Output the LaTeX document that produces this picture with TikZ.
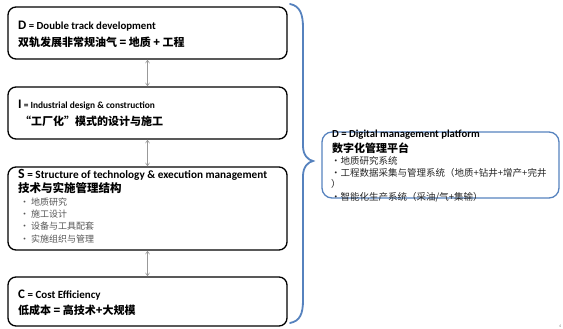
\documentclass[tikz,border=0pt]{standalone}
\usepackage{fontspec}
\setmainfont{Carlito}
\newfontfamily\cjk{Noto Sans CJK SC}
\usetikzlibrary{arrows.meta}
\definecolor{pblue}{RGB}{86,130,190}
\definecolor{bulgray}{RGB}{85,85,85}
\begin{document}
\begin{tikzpicture}[x=1pt,y=-1pt,
  blackbox/.style={draw=black,line width=1.3pt,rounded corners=8pt,minimum width=279pt,inner sep=0pt},
  txt/.style={anchor=west,inner sep=0pt,text=black},
  bul/.style={anchor=west,inner sep=0pt,text=bulgray,font=\cjk\fontsize{9}{10}\selectfont},
  link/.style={draw=gray!80,line width=0.6pt,{Straight Barb[length=3pt,width=4pt]}-{Straight Barb[length=3pt,width=4pt]}},
  bluebox/.style={draw=pblue,line width=1.3pt,rounded corners=10pt,inner sep=0pt},
  btxt/.style={anchor=west,inner sep=0pt,text=black!85,font=\cjk\fontsize{9.5}{10}\selectfont}]
\useasboundingbox (0,0) rectangle (563,329);
% boxes
\node[blackbox,minimum height=52pt] (D) at (147.5,33) {};
\node[blackbox,minimum height=52pt] (I) at (147.5,113) {};
\node[blackbox,minimum height=83pt] (S) at (147.5,208.5) {};
\node[blackbox,minimum height=49pt] (C) at (147.5,301.5) {};
% texts D
\node[txt] (d1) at (18,26) {\bfseries\fontsize{13}{14}\selectfont D\fontsize{10.8}{11}\selectfont{} = Double track development};
\node[txt] (d2) at (18,42.5) {\cjk\bfseries\fontsize{11}{12}\selectfont 双轨发展非常规油气 = 地质 + 工程};
% texts I
\node[txt] (i1) at (18,105.5) {\bfseries\fontsize{13}{14}\selectfont I\fontsize{9.4}{10}\selectfont{} = Industrial design \& construction};
\node[txt] (i2) at (20,121.5) {\cjk\bfseries\fontsize{11}{12}\selectfont “工厂化”模式的设计与施工};
% texts S
\node[txt] (s1) at (18,175) {\bfseries\fontsize{14}{15}\selectfont S\fontsize{11.2}{12}\selectfont{} = Structure of technology \& execution management};
\node[txt] (s2) at (18,188.5) {\cjk\bfseries\fontsize{11.5}{12}\selectfont 技术与实施管理结构};
\node[bul] (sb1) at (20,202.5) {• 地质研究};
\node[bul] (sb2) at (20,214.5) {• 施工设计};
\node[bul] (sb3) at (20,226.5) {• 设备与工具配套};
\node[bul] (sb4) at (20,239) {• 实施组织与管理};
% texts C
\node[txt] (c1) at (18,295) {\bfseries\fontsize{13}{14}\selectfont C\fontsize{11}{12}\selectfont{} = Cost Efficiency};
\node[txt] (c2) at (18,310.5) {\cjk\bfseries\fontsize{11}{12}\selectfont 低成本 = 高技术+大规模};
% connectors
\draw[link] (D.south) -- (I.north);
\draw[link] (I.south) -- (S.north);
\draw[link] (S.south) -- (C.north);
% brace
\draw[pblue,line width=1.8pt,line cap=round]
  (290,4) .. controls (300,6) and (303,14) .. (303,28) -- (303,146)
  .. controls (303,155) and (308,160) .. (313,161)
  .. controls (308,162) and (303,167) .. (303,176) -- (303,300)
  .. controls (303,314) and (300,321) .. (290,323);
% blue box
\node[bluebox,minimum width=237pt,minimum height=66pt] (P) at (440.5,165) {};
\node[txt] (p1) at (332,135) {\bfseries\fontsize{10.7}{11}\selectfont D = Digital management platform};
\node[txt] (p2) at (332,148) {\cjk\bfseries\fontsize{11}{12}\selectfont 数字化管理平台};
\node[btxt] (pb1) at (331,161) {•地质研究系统};
\node[btxt] (pb2) at (331,173) {•工程数据采集与管理系统（地质+钻井+增产+完井};
\node[btxt] (pb3) at (331,184) {）};
\node[btxt] (pb4) at (331,197) {•智能化生产系统（采油/气+集输）};
% page number
\node[txt,text=gray,font=\fontsize{4}{4}\selectfont] (pg) at (559,326) {4};
\end{tikzpicture}
\end{document}
